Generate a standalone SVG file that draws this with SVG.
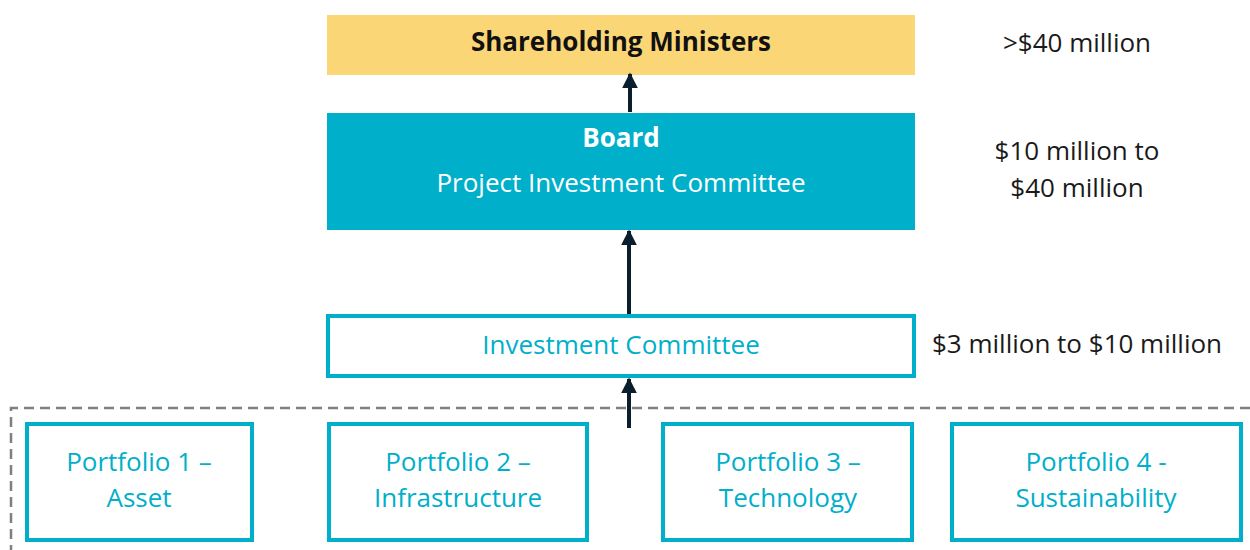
<svg xmlns="http://www.w3.org/2000/svg" width="1250" height="550" viewBox="0 0 1250 550">
  <defs>
    <marker id="arrow" viewBox="0 0 10 10" refX="9" refY="5" markerWidth="4" markerHeight="4" orient="auto-start-reverse" markerUnits="strokeWidth">
      <path d="M0,0 L10,5 L0,10 z" fill="#0b1e2d"/>
    </marker>
    <style>
      text { font-family: "Open Sans", "Liberation Sans", sans-serif; text-anchor: middle; }
      .outline { fill: #ffffff; stroke: #00afca; stroke-width: 4; }
      .cyan { fill: #00afca; font-size: 26px; }
      .amount { fill: #1a1a1a; font-size: 26px; }
      .conn { stroke: #0b1e2d; stroke-width: 4; fill: none; marker-end: url(#arrow); }
      .group { stroke: #808080; stroke-width: 2.5; stroke-dasharray: 10 6; fill: none; }
    </style>
  </defs>
  <rect width="1250" height="550" fill="#ffffff"/>

  <!-- portfolio grouping boundary -->
  <path class="group" d="M1250,408 H11 V550"/>

  <g id="shareholding-ministers">
    <rect x="327" y="15" width="588" height="60" fill="#fbd676"/>
    <text x="621" y="51" font-size="26" font-weight="bold" fill="#111111">Shareholding Ministers</text>
  </g>

  <g id="board">
    <rect x="327" y="113" width="588" height="117" fill="#00afca"/>
    <text x="621" y="147" font-size="26" font-weight="bold" fill="#ffffff">Board</text>
    <text x="621" y="192" font-size="26" fill="#ffffff">Project Investment Committee</text>
  </g>

  <g id="investment-committee">
    <rect class="outline" x="328" y="316" width="586" height="60"/>
    <text class="cyan" x="621" y="354">Investment Committee</text>
  </g>

  <g id="portfolio-1">
    <rect class="outline" x="27" y="424" width="225" height="116"/>
    <text class="cyan" x="139" y="471">Portfolio 1 –</text>
    <text class="cyan" x="139" y="507">Asset</text>
  </g>
  <g id="portfolio-2">
    <rect class="outline" x="329" y="424" width="258" height="116"/>
    <text class="cyan" x="458" y="471">Portfolio 2 –</text>
    <text class="cyan" x="458" y="507">Infrastructure</text>
  </g>
  <g id="portfolio-3">
    <rect class="outline" x="663" y="424" width="249" height="116"/>
    <text class="cyan" x="788" y="471">Portfolio 3 –</text>
    <text class="cyan" x="788" y="507">Technology</text>
  </g>
  <g id="portfolio-4">
    <rect class="outline" x="952" y="424" width="289" height="116"/>
    <text class="cyan" x="1096" y="471">Portfolio 4 -</text>
    <text class="cyan" x="1096" y="507">Sustainability</text>
  </g>

  <g id="thresholds">
    <text class="amount" x="1077" y="52">&gt;$40 million</text>
    <text class="amount" x="1077" y="160">$10 million to</text>
    <text class="amount" x="1077" y="197">$40 million</text>
    <text class="amount" x="1077" y="353">$3 million to $10 million</text>
  </g>

  <g id="connectors">
    <line class="conn" x1="630" y1="112" x2="630" y2="74"/>
    <line class="conn" x1="629" y1="314" x2="629" y2="231"/>
    <line class="conn" x1="629" y1="428" x2="629" y2="379"/>
  </g>
</svg>
